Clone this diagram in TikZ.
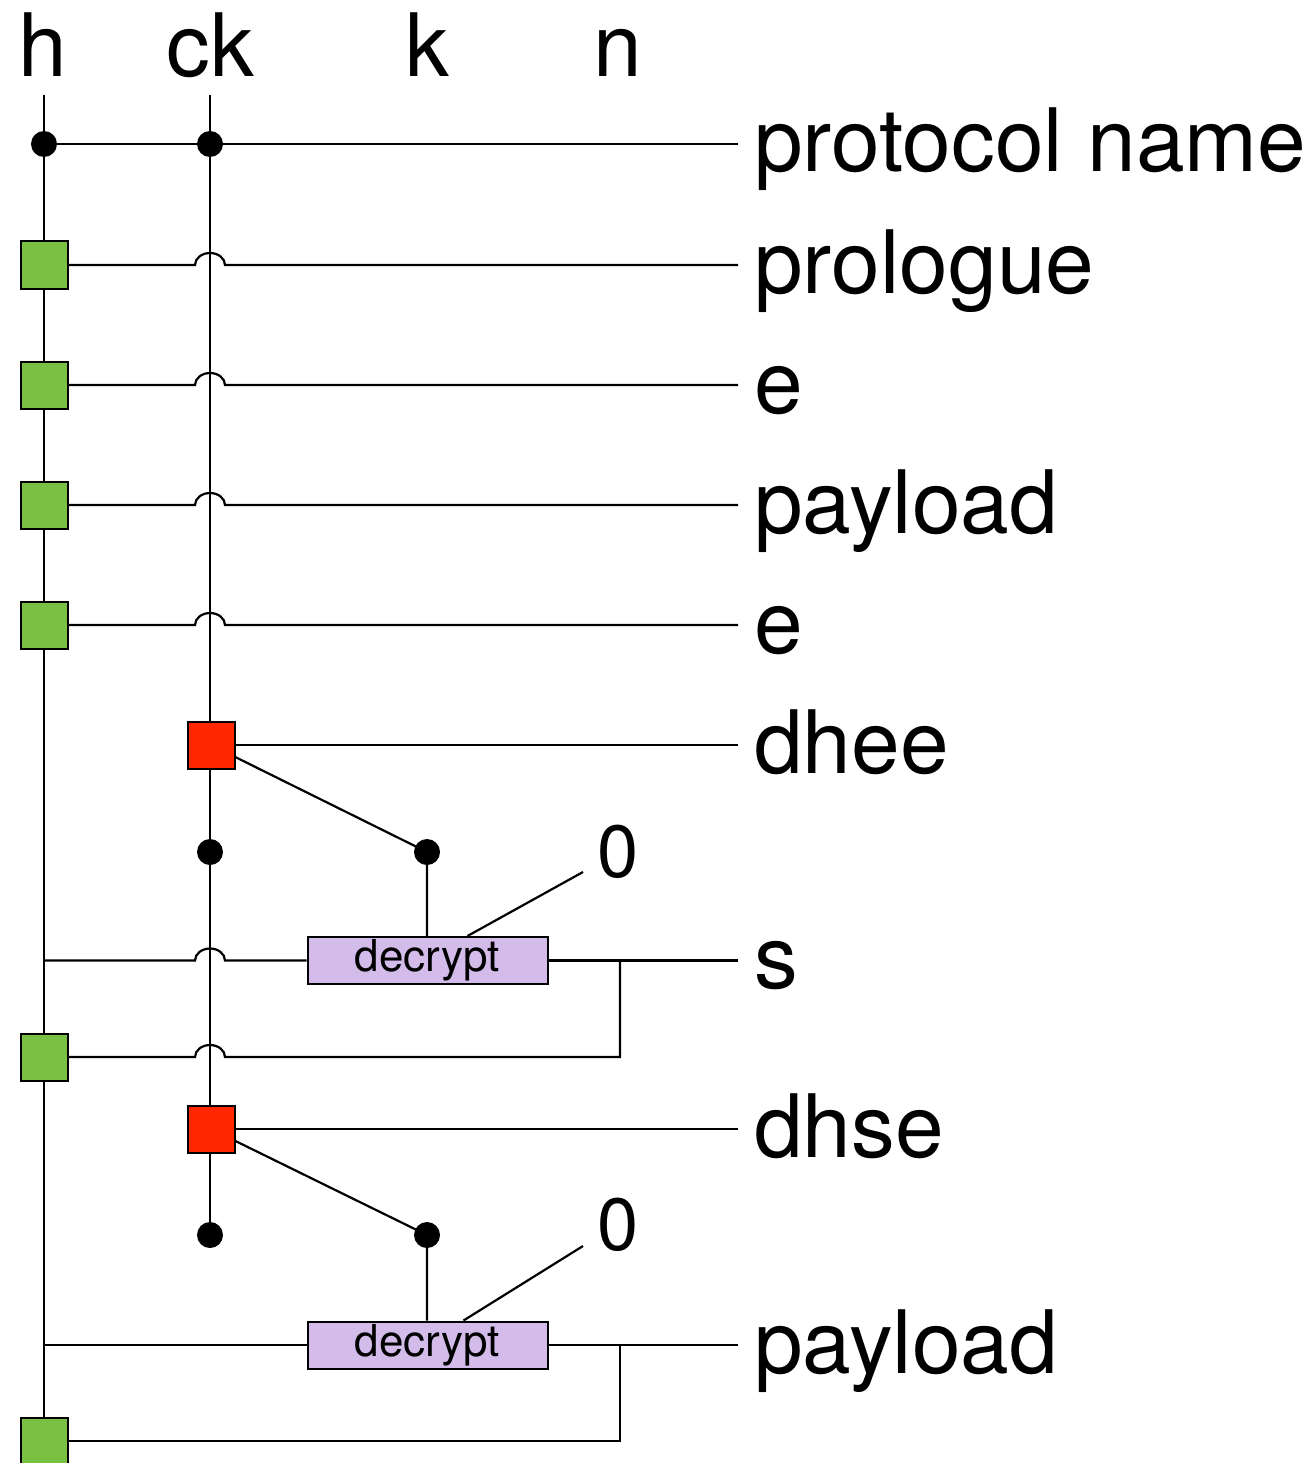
\documentclass[tikz,border=0pt]{standalone}
\usepackage{fontspec}
\setmainfont{TeX Gyre Heros}
\pgfdeclarelayer{bg}
\pgfsetlayers{bg,main}
\definecolor{mixgreen}{RGB}{122,193,67}
\definecolor{dhred}{RGB}{255,38,0}
\definecolor{ciphlilac}{RGB}{211,188,234}
\tikzset{
  wire/.style={line width=2.2pt,line join=miter},
  tap/.style={circle,fill=black,inner sep=0pt,minimum size=26pt},
  mixbox/.style={rectangle,draw=black,line width=2pt,fill=mixgreen,inner sep=0pt,minimum size=47pt},
  dhbox/.style={rectangle,draw=black,line width=2pt,fill=dhred,inner sep=0pt,minimum size=47pt},
  ciphbox/.style={rectangle,draw=black,line width=2pt,fill=ciphlilac,inner sep=0pt,
    minimum width=240pt,minimum height=47pt,font=\fontsize{44}{46}\selectfont},
  big/.style={inner sep=0pt,font=\fontsize{87.5}{90}\selectfont},
  rowlbl/.style={big,anchor=base west},
  collbl/.style={big,anchor=base},
  zerolbl/.style={inner sep=0pt,anchor=base,font=\fontsize{74}{78}\selectfont},
}
% a small bridge where a horizontal wire passes over the ck wire
\newcommand{\hopLR}{arc[start angle=180,end angle=0,x radius=15pt,y radius=12pt]}
\newcommand{\hopRL}{arc[start angle=0,end angle=180,x radius=15pt,y radius=12pt]}
\begin{document}
\begin{tikzpicture}[x=1pt,y=-1pt]
\useasboundingbox (0,0) rectangle (1310,1463);

% column headings
\node[collbl] (hh) at (43,77) {h};
\node[collbl] (hck) at (210,77) {ck};
\node[collbl] (hk) at (427,77) {k};
\node[collbl] (hn) at (618,77) {n};
\coordinate (hT) at (44,95);
\coordinate (ckT) at (210,95);

% taps on the protocol name row
\node[tap] (h0) at (44,144) {};
\node[tap] (ck0) at (210,144) {};

% mixing steps on h
\node[mixbox] (g1) at (44,265) {};
\node[mixbox] (g2) at (44,385) {};
\node[mixbox] (g3) at (44,505) {};
\node[mixbox] (g4) at (44,625) {};
\node[mixbox] (g5) at (44,1057) {};
\node[mixbox] (g6) at (44,1441) {};

% DH steps on ck
\node[dhbox] (r1) at (211,745) {};
\node[dhbox] (r2) at (211,1129) {};

% key-derivation outputs
\node[tap] (c1) at (210,852) {};
\node[tap] (k1) at (427,852) {};
\node[tap] (c2) at (210,1235) {};
\node[tap] (k2) at (427,1235) {};

% decryption boxes
\node[ciphbox] (d1) at (427.5,960.5) {decrypt};
\node[ciphbox] (d2) at (427.5,1345) {decrypt};

% nonce inputs
\node[zerolbl] (z1) at (618,877) {0};
\node[zerolbl] (z2) at (618,1250) {0};
\coordinate (z1w) at (583,872);
\coordinate (z2w) at (583,1246);

% wire ends and their labels
\coordinate (e0) at (738,144);
\coordinate (e1) at (738,265);
\coordinate (e2) at (738,385);
\coordinate (e3) at (738,505);
\coordinate (e4) at (738,625);
\coordinate (e5) at (738,745);
\coordinate (e6) at (738,960.5);
\coordinate (e7) at (738,1129);
\coordinate (e8) at (738,1345);
\node[rowlbl] (l0) at (754,172) {protocol name};
\node[rowlbl] (l1) at (754,293) {prologue};
\node[rowlbl] (l2) at (754,413) {e};
\node[rowlbl] (l3) at (754,533) {payload};
\node[rowlbl] (l4) at (754,653) {e};
\node[rowlbl] (l5) at (754,773) {dhee};
\node[rowlbl] (l6) at (754,988) {s};
\node[rowlbl] (l7) at (754,1157) {dhse};
\node[rowlbl] (l8) at (754,1373) {payload};

% feedback branch points
\coordinate (b1) at (620,960.5);
\coordinate (b2) at (620,1345);

\begin{pgfonlayer}{bg}
  % state wires
  \draw[wire] (hT) -- (g6.center);
  \draw[wire] (ckT) -- (c2.center);
  % protocol name
  \draw[wire] (h0.center) -- (e0);
  % inputs mixed into h, bridging over ck
  \foreach \g/\e in {g1/e1,g2/e2,g3/e3,g4/e4}{
    \draw[wire] (\g.center) -- ([xshift=-15pt]ckT |- \g) \hopLR -- (\e);
  }
  % DH outputs
  \draw[wire] (r1.center) -- (e5);
  \draw[wire] (r2.center) -- (e7);
  \draw[wire] (r1.center) -- (k1.center) -- (d1.north -| k1);
  \draw[wire] (r2.center) -- (k2.center) -- (d2.north -| k2);
  % nonce wires
  \draw[wire] ([xshift=40pt]d1.north) -- (z1w);
  \draw[wire] ([xshift=36pt]d2.north) -- (z2w);
  % h as associated data, plaintext out
  \draw[wire] (hT |- d1) -- ([xshift=-15pt]ckT |- d1) \hopLR -- (d1.west);
  \draw[wire] (d1.east) -- (e6);
  \draw[wire] (hT |- d2) -- (d2.west);
  \draw[wire] (d2.east) -- (e8);
  % ciphertext mixed back into h
  \draw[wire] (b1) -- (b1 |- g5) -- ([xshift=15pt]ckT |- g5) \hopRL -- (g5.center);
  \draw[wire] (b2) -- (b2 |- g6) -- (g6.center);
\end{pgfonlayer}
\end{tikzpicture}
\end{document}
